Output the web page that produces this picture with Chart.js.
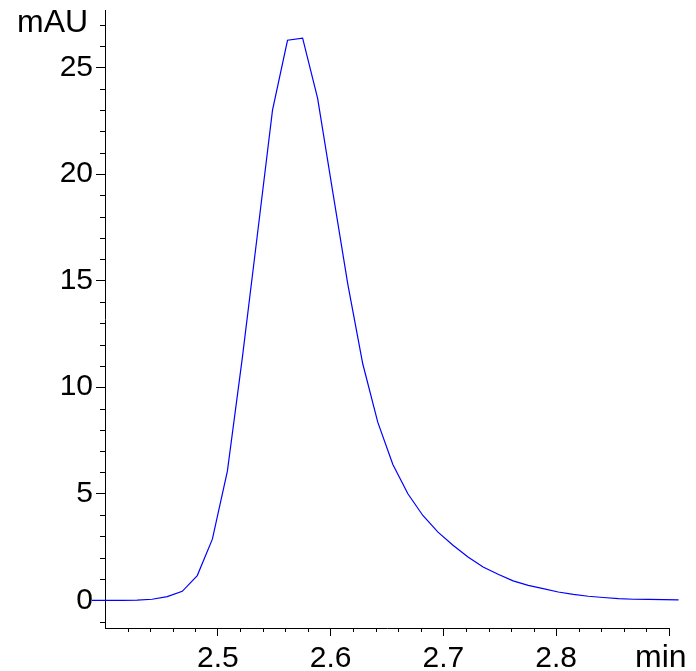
<!DOCTYPE html>
<html>
<head>
<meta charset="utf-8">
<script src="https://cdn.jsdelivr.net/npm/chart.js@4"></script>
<style>
    html, body { margin: 0; padding: 0; background: #fff; }
    #wrap { width: 696px; height: 671px; position: relative; }
</style>
</head>
<body>
<div id="wrap"><canvas id="chromatogram"></canvas></div>
<script>
// retention time (min) and absorbance (mAU)
const times = [
    2.3885, 2.4018, 2.4152, 2.4285, 2.4418, 2.4552, 2.4685, 2.4818, 2.4952, 2.5085,
    2.5218, 2.5352, 2.5485, 2.5618, 2.5752, 2.5885, 2.6018, 2.6152, 2.6285, 2.6418,
    2.6552, 2.6685, 2.6818, 2.6952, 2.7085, 2.7218, 2.7352, 2.7485, 2.7618, 2.7752,
    2.7885, 2.8018, 2.8152, 2.8285, 2.8418, 2.8552, 2.8685, 2.8818, 2.8952, 2.9085
];
const absorbance = [
    0.00, 0.00, 0.00, 0.01, 0.05, 0.17, 0.42, 1.16, 2.87, 6.06,
    11.4, 17.2, 23.0, 26.28, 26.38, 23.55, 19.2, 14.85, 11.1, 8.36,
    6.37, 5.00, 3.98, 3.20, 2.58, 2.03, 1.56, 1.22, 0.91, 0.70,
    0.55, 0.39, 0.28, 0.19, 0.13, 0.08, 0.05, 0.04, 0.03, 0.02
];

// tick labels
const xMajor = [2.5, 2.6, 2.7, 2.8, 2.9];
const xLabels = ['2.5', '2.6', '2.7', '2.8', ''];
const xMinor = [2.42, 2.44, 2.46, 2.48, 2.52, 2.54, 2.56, 2.58, 2.62, 2.64, 2.66, 2.68,
    2.72, 2.74, 2.76, 2.78, 2.82, 2.84, 2.86, 2.88];
const yMajor = [0, 5, 10, 15, 20, 25];
const yLabels = ['0', '5', '10', '15', '20', '25'];
const yMinor = [-1, 1, 2, 3, 4, 6, 7, 8, 9, 11, 12, 13, 14, 16, 17, 18, 19, 21, 22, 23, 24, 26, 27];

const FONT = '"Liberation Sans", Arial, sans-serif';

// short minor ticks and the two unit labels
const extras = {
    id: 'extras',
    afterDraw(chart) {
        const ctx = chart.ctx;
        const xs = chart.scales.x;
        const ys = chart.scales.y;
        const left = chart.chartArea.left;
        const bottom = chart.chartArea.bottom;
        ctx.save();
        ctx.strokeStyle = '#000';
        ctx.lineWidth = 1;
        ctx.beginPath();
        yMinor.forEach(v => {
            const py = Math.round(ys.getPixelForValue(v)) + 0.5;
            ctx.moveTo(left - 5, py);
            ctx.lineTo(left, py);
        });
        xMinor.forEach(v => {
            const px = Math.round(xs.getPixelForValue(v)) + 0.5;
            ctx.moveTo(px, bottom);
            ctx.lineTo(px, bottom + 4);
        });
        ctx.stroke();

        ctx.fillStyle = '#000';
        ctx.font = '32px ' + FONT;
        ctx.textBaseline = 'alphabetic';
        ctx.textAlign = 'left';
        ctx.fillText('mAU', 17, 32);
        ctx.fillText('min', 635, 667);
        ctx.restore();
    }
};

const data = {
    datasets: [{
        label: 'mAU',
        data: times.map((t, i) => ({ x: t, y: absorbance[i] })),
        borderColor: '#0000ff',
        borderWidth: 1.2,
        pointRadius: 0,
        tension: 0,
        fill: false,
        clip: false
    }]
};

const config = {
    type: 'line',
    data,
    options: {
        responsive: true,
        maintainAspectRatio: false,
        animation: false,
        layout: {
            padding: { left: 0, top: 10, right: 27, bottom: 0 }
        },
        plugins: {
            legend: { display: false },
            tooltip: { enabled: false }
        },
        scales: {
            x: {
                type: 'linear',
                min: 2.4,
                max: 2.9,
                afterBuildTicks: scale => {
                    scale.ticks = xMajor.map(v => ({ value: v }));
                },
                afterFit: scale => {
                    scale.height = 43;
                    scale.paddingLeft = 0;
                    scale.paddingRight = 0;
                },
                ticks: {
                    autoSkip: false,
                    maxRotation: 0,
                    padding: 5,
                    color: '#000',
                    font: { family: FONT, size: 30 },
                    callback: (value) => {
                        const i = xMajor.findIndex(m => Math.abs(m - value) < 1e-6);
                        return i >= 0 ? xLabels[i] : '';
                    }
                },
                grid: {
                    drawOnChartArea: false,
                    tickLength: 8,
                    tickColor: '#000',
                    tickWidth: 1
                },
                border: { color: '#000', width: 1 }
            },
            y: {
                type: 'linear',
                min: -1.3,
                max: 27.7,
                afterBuildTicks: scale => {
                    scale.ticks = yMajor.map(v => ({ value: v }));
                },
                afterFit: scale => {
                    scale.width = 105;
                    scale.paddingTop = 0;
                    scale.paddingBottom = 0;
                },
                ticks: {
                    autoSkip: false,
                    padding: 3,
                    color: '#000',
                    font: { family: FONT, size: 30 },
                    callback: (value) => {
                        const i = yMajor.findIndex(m => Math.abs(m - value) < 1e-6);
                        return i >= 0 ? yLabels[i] : '';
                    }
                },
                grid: {
                    drawOnChartArea: false,
                    tickLength: 9,
                    tickColor: '#000',
                    tickWidth: 1
                },
                border: { color: '#000', width: 1 }
            }
        }
    },
    plugins: [extras]
};

const myChart = new Chart(document.getElementById('chromatogram'), config);
</script>
</body>
</html>
